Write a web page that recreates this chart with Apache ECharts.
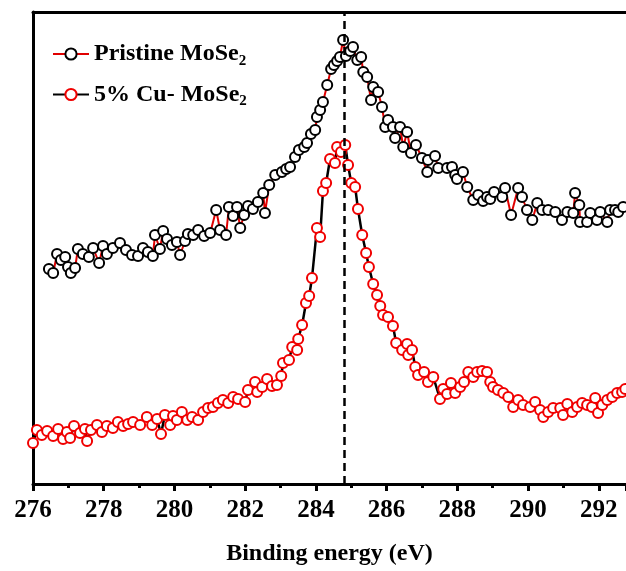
<!DOCTYPE html>
<html>
<head>
<meta charset="utf-8">
<script src="https://cdn.jsdelivr.net/npm/echarts@6/dist/echarts.min.js"></script>
<style>
  html, body { margin: 0; padding: 0; background: #fff; }
  #main { width: 626px; height: 571px; }
</style>
</head>
<body>
<div id="main"></div>
<script>
// Binding energy (eV) and intensity (a.u.), Pristine MoSe2
var pristineX = [276.45,276.57,276.68,276.79,276.91,276.99,277.07,277.19,277.27,277.41,277.58,277.70,277.87,277.98,278.09,278.26,278.46,278.63,278.80,278.97,
  279.11,279.25,279.39,279.45,279.59,279.68,279.79,279.93,280.07,280.16,280.30,280.38,280.53,280.67,280.84,281.01,281.18,281.29,281.46,281.54,
  281.66,281.77,281.86,281.97,282.08,282.22,282.36,282.51,282.56,282.68,282.85,283.04,283.16,283.27,283.41,283.52,283.67,283.75,283.86,283.98,
  284.03,284.12,284.20,284.32,284.43,284.51,284.60,284.68,284.77,284.85,284.97,285.05,285.17,285.28,285.34,285.45,285.56,285.62,285.76,285.87,
  285.96,286.04,286.18,286.24,286.38,286.47,286.58,286.69,286.83,287.00,287.15,287.17,287.37,287.46,287.71,287.85,287.94,287.99,288.16,288.28,
  288.45,288.59,288.73,288.84,288.93,289.04,289.27,289.35,289.52,289.72,289.83,289.97,290.12,290.26,290.40,290.57,290.77,290.96,291.11,291.28,
  291.33,291.45,291.47,291.67,291.76,291.95,292.04,292.24,292.32,292.46,292.55,292.69];
var pristineY = [215,211,230,224,227,217,211,216,235,230,227,236,221,238,230,236,241,234,229,228,
  236,232,228,249,235,253,245,239,242,229,243,250,249,254,248,251,274,254,249,277,
  268,277,256,269,278,275,282,291,271,299,309,312,315,317,327,334,337,341,350,354,
  367,374,382,399,415,419,423,427,444,428,433,437,424,427,412,407,384,397,392,377,
  357,364,357,346,357,337,352,331,339,326,312,324,328,316,316,317,309,305,312,297,
  284,289,283,287,285,292,287,296,269,296,287,274,264,281,274,274,272,264,272,271,
  291,279,262,262,271,264,272,262,274,274,272,277];

// 5% Cu- MoSe2
var cuX = [276.00,276.11,276.25,276.40,276.57,276.71,276.85,276.96,277.05,277.16,277.33,277.47,277.53,277.64,277.81,277.95,278.09,278.26,278.40,278.55,
  278.69,278.83,279.03,279.22,279.37,279.51,279.62,279.73,279.88,279.96,280.07,280.21,280.36,280.50,280.67,280.81,280.95,281.09,281.23,281.37,
  281.52,281.66,281.80,282.00,282.08,282.28,282.34,282.48,282.62,282.76,282.90,283.02,283.07,283.24,283.33,283.47,283.50,283.61,283.72,283.81,
  283.89,284.03,284.12,284.20,284.29,284.40,284.54,284.60,284.71,284.83,284.91,285.00,285.11,285.19,285.31,285.42,285.50,285.62,285.73,285.82,
  285.90,286.04,286.18,286.27,286.44,286.58,286.61,286.72,286.81,286.89,287.06,287.17,287.32,287.51,287.60,287.71,287.82,287.94,288.08,288.19,
  288.31,288.45,288.56,288.70,288.84,288.93,289.01,289.15,289.30,289.44,289.58,289.72,289.86,290.06,290.20,290.34,290.43,290.57,290.71,290.91,
  290.99,291.11,291.25,291.39,291.53,291.67,291.81,291.90,291.98,292.10,292.24,292.38,292.52,292.66,292.75];
var cuY = [41,54,49,53,48,55,45,52,46,58,51,55,43,54,59,52,58,56,62,58,
  60,62,59,67,59,65,50,69,59,68,64,72,64,67,64,72,76,77,81,84,
  81,87,85,82,94,102,92,97,105,98,99,108,121,124,137,134,145,159,181,188,
  206,256,247,293,301,325,321,337,332,339,319,301,297,275,249,231,217,200,189,178,
  169,167,158,141,134,140,129,134,117,109,112,102,107,85,95,90,101,91,97,102,
  112,107,112,113,112,102,97,94,91,87,77,84,79,77,82,74,67,72,76,76,
  69,80,72,77,81,79,77,86,71,79,84,87,91,92,95];

var refLine = 284.8;
var xTicks = { min: 276, max: 292.77, step: 2 };

function pairs(xs, ys) {
    var out = [];
    for (var i = 0; i < xs.length; i++) {
        out.push([xs[i], ys[i]]);
    }
    return out;
}

var font = 'Liberation Serif';
var myChart = echarts.init(document.getElementById('main'));
var option = {
    backgroundColor: '#fff',
    animation: false,
    grid: { left: 33, right: 0, top: 12, bottom: 87, outerBoundsMode: 'none', containLabel: false },
    legend: {
        orient: 'vertical',
        left: 47,
        top: 37,
        itemGap: 14,
        itemWidth: 36,
        itemHeight: 14,
        data: ['Pristine MoSe2', '5% Cu- MoSe2'],
        formatter: function (name) {
            return '{a|' + name.slice(0, -1) + '}{b|2}';
        },
        textStyle: {
            fontFamily: font,
            fontWeight: 'bold',
            fontSize: 24,
            color: '#000',
            rich: {
                a: { fontFamily: font, fontWeight: 'bold', fontSize: 24, color: '#000' },
                b: { fontFamily: font, fontWeight: 'bold', fontSize: 15, color: '#000', padding: [14, 0, 0, 0] }
            }
        }
    },
    xAxis: [
        {
            type: 'value',
            min: xTicks.min,
            max: xTicks.max,
            interval: xTicks.step,
            name: 'Binding energy (eV)',
            nameLocation: 'middle',
            nameGap: 58,
            nameTextStyle: { fontFamily: font, fontWeight: 'bold', fontSize: 24, color: '#000' },
            axisLine: { show: true, onZero: false, lineStyle: { color: '#000', width: 3 } },
            axisTick: { show: true, inside: false, length: 7, lineStyle: { color: '#000', width: 3 } },
            minorTick: { show: true, splitNumber: 2, length: 4, lineStyle: { color: '#000', width: 3 } },
            axisLabel: { fontFamily: font, fontWeight: 'bold', fontSize: 25, color: '#000', margin: 14, showMaxLabel: false },
            splitLine: { show: false }
        },
        {
            type: 'value',
            position: 'top',
            min: xTicks.min,
            max: xTicks.max,
            axisLine: { show: true, onZero: false, lineStyle: { color: '#000', width: 3 } },
            axisTick: { show: false },
            axisLabel: { show: false },
            splitLine: { show: false }
        }
    ],
    yAxis: {
        type: 'value',
        min: 0,
        max: 472,
        axisLine: { show: true, onZero: false, lineStyle: { color: '#000', width: 3 } },
        axisTick: { show: false },
        axisLabel: { show: false },
        splitLine: { show: false }
    },
    series: [
        {
            name: 'Pristine MoSe2',
            type: 'line',
            data: pairs(pristineX, pristineY),
            symbol: 'circle',
            symbolSize: 10,
            lineStyle: { color: '#e00000', width: 2 },
            itemStyle: { color: '#fff', borderColor: '#000', borderWidth: 2 },
            z: 2
        },
        {
            name: '5% Cu- MoSe2',
            type: 'line',
            data: pairs(cuX, cuY),
            symbol: 'circle',
            symbolSize: 10,
            lineStyle: { color: '#000', width: 2.5 },
            itemStyle: { color: '#fff', borderColor: '#f00000', borderWidth: 2 },
            z: 3,
            markLine: {
                silent: true,
                symbol: 'none',
                label: { show: false },
                lineStyle: { color: '#000', width: 2.5, type: [8, 5] },
                data: [{ xAxis: refLine }]
            }
        }
    ]
};
myChart.setOption(option);
</script>
</body>
</html>
